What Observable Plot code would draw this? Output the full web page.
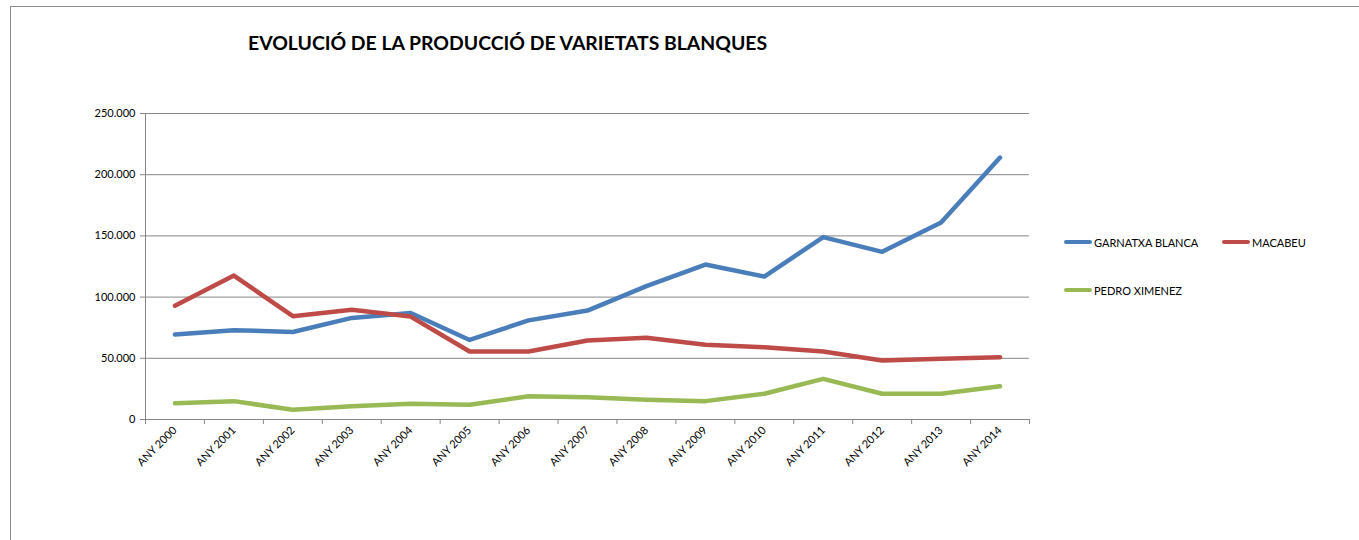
<!DOCTYPE html>
<html>
<head>
<meta charset="utf-8">
<script src="https://cdn.jsdelivr.net/npm/d3@7"></script>
<script src="https://cdn.jsdelivr.net/npm/@observablehq/plot@0.6"></script>
<style>
  html, body { margin: 0; padding: 0; background: #fff; }
  #wrap { position: relative; width: 1359px; height: 540px; overflow: hidden; font-family: Lato, "Open Sans", sans-serif; }
  #frame { position: absolute; left: 10px; top: 6px; width: 1360px; height: 600px; border-left: 1px solid #8c8c8c; border-top: 1px solid #8c8c8c; box-sizing: border-box; }
  #chart { position: absolute; left: 0; top: 0; }
  #title { position: absolute; left: 248px; top: 31px; font-weight: bold; font-size: 19.4px; color: #000; white-space: nowrap; }
  #legend { position: absolute; left: 1064px; top: 233px; display: grid; grid-template-columns: 158px auto; row-gap: 30px; font-size: 11px; color: #000; }
  .item { display: flex; align-items: center; height: 18px; white-space: nowrap; }
  .sw { width: 28px; height: 4px; border-radius: 2px; margin-right: 2px; }
</style>
</head>
<body>
<div id="wrap">
  <div id="frame"></div>
  <div id="chart"></div>
  <div id="title">EVOLUCIÓ DE LA PRODUCCIÓ DE VARIETATS BLANQUES</div>
  <div id="legend"></div>
</div>
<script>
const years = ["ANY 2000", "ANY 2001", "ANY 2002", "ANY 2003", "ANY 2004", "ANY 2005", "ANY 2006", "ANY 2007", "ANY 2008", "ANY 2009", "ANY 2010", "ANY 2011", "ANY 2012", "ANY 2013", "ANY 2014"];
const seriesNames = ["GARNATXA BLANCA", "MACABEU", "PEDRO XIMENEZ"];
const garnatxaBlanca = [69400, 73000, 71500, 83000, 87000, 65000, 81000, 89000, 109000, 126600, 116800, 149000, 137000, 161000, 214000];
const macabeu = [93000, 117600, 84400, 89600, 84100, 55600, 55600, 64500, 66700, 61000, 59000, 55600, 48200, 49600, 50900];
const pedroXimenez = [13300, 15000, 7900, 10900, 12800, 12000, 19000, 18200, 16100, 15000, 21000, 33200, 21000, 21000, 27200];
const yTicks = [0, 50000, 100000, 150000, 200000, 250000];
const colors = ["#4A7EBB", "#BE4B48", "#98B954"];

const data = [];
[garnatxaBlanca, macabeu, pedroXimenez].forEach((vals, s) =>
  vals.forEach((v, i) => data.push({i, year: years[i], value: v, series: seriesNames[s]})));

const fmt = d3.formatLocale({decimal: ",", thousands: ".", grouping: [3], currency: ["", "€"]}).format(",");

const chart = Plot.plot({
  width: 1359,
  height: 540,
  marginLeft: 145,
  marginRight: 330,
  marginTop: 113,
  marginBottom: 121,
  x: {type: "linear", domain: [0, years.length]},
  y: {domain: [0, 250000]},
  color: {domain: seriesNames, range: colors},
  style: {fontFamily: "Lato, 'Open Sans', sans-serif", fontSize: "11px", color: "#000", background: "transparent", overflow: "visible"},
  marks: [
    Plot.gridY({ticks: yTicks, stroke: "#868686", strokeOpacity: 1}),
    Plot.ruleX([0], {stroke: "#868686"}),
    Plot.ruleY([0], {stroke: "#868686"}),
    Plot.axisY({ticks: yTicks, tickFormat: fmt, tickSize: 5, tickPadding: 5, stroke: "#868686", label: null}),
    Plot.axisX({ticks: d3.range(years.length + 1), tickFormat: () => "", tickSize: 5, stroke: "#868686", label: null}),
    Plot.axisX({ticks: years.map((_, i) => i + 0.5), tickFormat: d => years[Math.floor(d)], tickSize: 0, tickPadding: 9, tickRotate: -45, label: null}),
    Plot.line(data, {x: d => d.i + 0.5, y: "value", z: "series", stroke: "series", strokeWidth: 4.5, strokeLinecap: "round", strokeLinejoin: "round"})
  ]
});
document.getElementById("chart").append(chart);

const legend = document.getElementById("legend");
seriesNames.forEach((name, k) => {
  const item = document.createElement("div");
  item.className = "item";
  const sw = document.createElement("span");
  sw.className = "sw";
  sw.style.background = colors[k];
  const label = document.createElement("span");
  label.textContent = name;
  item.append(sw, label);
  legend.append(item);
});
</script>
</body>
</html>
